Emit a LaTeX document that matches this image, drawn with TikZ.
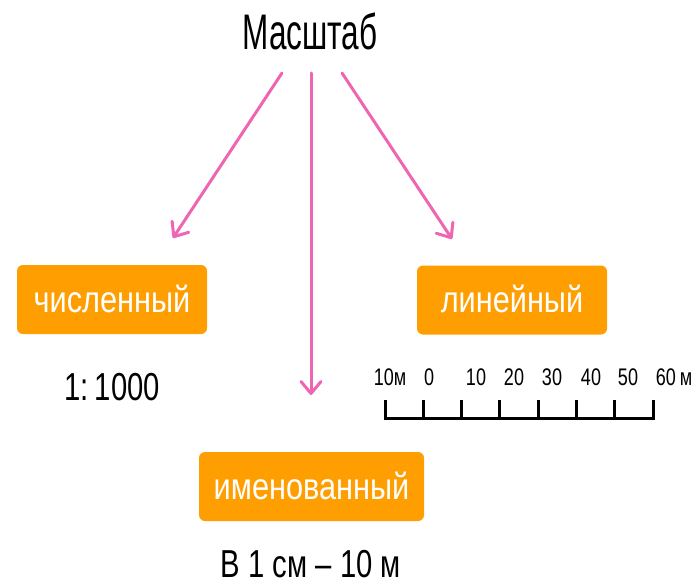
\documentclass[tikz,border=0pt]{standalone}
\usepackage{fontspec}
\setmainfont{Liberation Sans}
\newfontfamily\titlefont{Liberation Sans}[FakeStretch=0.63]
\newfontfamily\condfont{Liberation Sans}[FakeStretch=0.75]
\newfontfamily\boxfont{Liberation Sans}[FakeStretch=0.83]
\usetikzlibrary{arrows.meta}
\definecolor{pinkarrow}{HTML}{EE66B3}
\definecolor{orangebox}{HTML}{FF9E00}
\begin{document}
\begin{tikzpicture}[x=1pt,y=-1pt,
  catbox/.style={fill=orangebox, rounded corners=6pt, inner sep=0pt, text=white,
    font=\boxfont\fontsize{37}{40}\selectfont, text height=25pt, text depth=0pt,
    minimum height=69pt},
  arr/.style={draw=pinkarrow, line width=3pt, line cap=round,
    -{Straight Barb[length=12pt,width=20pt,line width=3pt,round]}},
  exmp/.style={font=\condfont\fontsize{39}{44}\selectfont, anchor=base, inner sep=0pt},
  scalelbl/.style={font=\condfont\fontsize{24}{28}\selectfont, anchor=base, inner sep=0pt},
  scaleline/.style={draw=black, line width=3pt}
]
\useasboundingbox (0,0) rectangle (695,585);

% title
\node[font=\titlefont\fontsize{50}{60}\selectfont, anchor=base, inner sep=0pt] (title) at (310,50) {Масштаб};

% category boxes
\node[catbox, minimum width=190pt] (num) at (112,299.5) {численный};
\node[catbox, minimum width=190pt] (lin) at (512,300) {линейный};
\node[catbox, minimum width=225pt] (named) at (311.5,486.5) {именованный};

% arrows
\coordinate (s1) at (282,73);
\coordinate (s2) at (311,73);
\coordinate (s3) at (342,73);
\coordinate (e1) at (173,238);
\coordinate (e2) at (311,395);
\coordinate (e3) at (452,239);
\draw[arr] (s1) -- (e1);
\draw[arr] (s2) -- (e2);
\draw[arr] (s3) -- (e3);

% examples
\node[exmp] (numex) at (112,400) {1:\,1000};
\node[exmp] (namedex) at (311,577) {В 1 см – 10 м};

% linear scale
\foreach \i in {0,...,7} {
  \draw[scaleline] ({385+38.286*\i},400) -- ({385+38.286*\i},418);
}
\draw[scaleline, line cap=rect] (385,418) -- (653,418);
\node[scalelbl] (l0) at (390,385) {10м};
\node[scalelbl] (l1) at (429,385) {0};
\node[scalelbl] (l2) at (476,385) {10};
\node[scalelbl] (l3) at (514,385) {20};
\node[scalelbl] (l4) at (552,385) {30};
\node[scalelbl] (l5) at (591,385) {40};
\node[scalelbl] (l6) at (628,385) {50};
\node[scalelbl] (l7) at (674,385) {60\,м};
\end{tikzpicture}
\end{document}
